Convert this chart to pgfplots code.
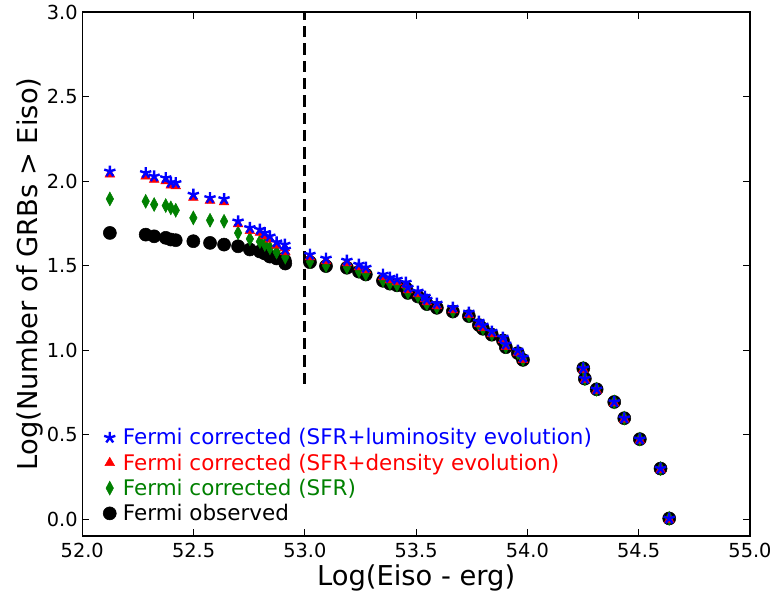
\documentclass[border=0pt]{standalone}
\usepackage{pgfplots}
\pgfplotsset{compat=1.18}
\usepackage{fontspec}
\setmainfont{DejaVu Sans}
\definecolor{mplgreen}{rgb}{0,0.5,0}

\begin{document}
\begin{tikzpicture}
\begin{axis}[
  name=ax,
  scale only axis,
  width=500.8pt, height=393pt,
  xmin=52, xmax=55, ymin=-0.1, ymax=3.0,
  xtick={52,52.5,...,55}, ytick={0,0.5,...,3},
  /pgf/number format/assume math mode=true,
  /pgf/number format/.cd, fixed, fixed zerofill, precision=1, /pgfplots/.cd,
  tick label style={font=\fontsize{14.5}{17}\selectfont},
  xticklabel style={yshift=-2pt},
  major tick length=5pt,
  tick style={black, line width=0.6pt},
  axis line style={line width=0.8pt},
  xlabel={Log(Eiso - erg)},
  ylabel={Log(Number of GRBs > Eiso)},
  label style={font=\fontsize{20.5}{24}\selectfont},
  xlabel style={at={(axis description cs:0.5,-0.08)}, anchor=center},
  ylabel style={at={(axis description cs:-0.078,0.5)}, anchor=center},
  legend style={draw=none, fill=none, at={(0.025,0.015)}, anchor=south west,
    font=\fontsize{16.1}{19}\selectfont, row sep=1.2pt},
  legend cell align=left,
  reverse legend,
]
% Fermi observed
\addplot[only marks, mark=*, mark size=4.9pt, black] coordinates {
(52.124,1.693) (52.285,1.683) (52.323,1.673) (52.375,1.664) (52.398,1.654) (52.420,1.650)
(52.499,1.644) (52.574,1.634) (52.637,1.624) (52.700,1.614) (52.753,1.595) (52.798,1.583)
(52.820,1.571) (52.843,1.553) (52.873,1.542) (52.910,1.530) (52.912,1.512)
(53.023,1.520) (53.095,1.497) (53.189,1.487) (53.243,1.464) (53.274,1.447) (53.351,1.410)
(53.382,1.393) (53.414,1.383) (53.454,1.367) (53.463,1.338) (53.508,1.317) (53.540,1.289)
(53.548,1.272) (53.593,1.250) (53.665,1.228) (53.737,1.201) (53.782,1.148) (53.800,1.126)
(53.840,1.091) (53.890,1.057) (53.903,1.017) (53.957,0.982) (53.980,0.942)
(54.251,0.892) (54.258,0.831) (54.311,0.768) (54.390,0.693) (54.435,0.597) (54.505,0.473)
(54.598,0.299) (54.637,0.004)
};
\addlegendentry{\hspace{3pt}Fermi observed}
% Fermi corrected (SFR)
\addplot[only marks, mark=diamond*, mark size=5.2pt, mark options={xscale=0.72}, color=mplgreen] coordinates {
(52.124,1.894) (52.285,1.880) (52.323,1.861) (52.375,1.855) (52.398,1.841) (52.420,1.827)
(52.499,1.782) (52.574,1.768) (52.637,1.762) (52.700,1.693) (52.753,1.658) (52.798,1.642)
(52.820,1.625) (52.843,1.605) (52.873,1.580) (52.910,1.570) (52.912,1.550)
(53.023,1.523) (53.095,1.500) (53.189,1.490) (53.243,1.467) (53.274,1.450) (53.351,1.413)
(53.382,1.396) (53.414,1.386) (53.454,1.370) (53.463,1.341) (53.508,1.320) (53.540,1.292)
(53.548,1.275) (53.593,1.253) (53.665,1.231) (53.737,1.204) (53.782,1.151) (53.800,1.129)
(53.840,1.094) (53.890,1.060) (53.903,1.020) (53.957,0.985) (53.980,0.945)
(54.251,0.892) (54.258,0.831) (54.311,0.768) (54.390,0.693) (54.435,0.597) (54.505,0.473)
(54.598,0.299) (54.637,0.004)
};
\addlegendentry{\hspace{3pt}\textcolor{mplgreen}{Fermi corrected (SFR)}}
% Fermi corrected (SFR+density evolution)
\addplot[only marks, mark=triangle*, mark size=4.2pt, red] coordinates {
(52.124,2.040) (52.285,2.028) (52.323,2.008) (52.375,2.000) (52.398,1.975) (52.420,1.970)
(52.499,1.902) (52.574,1.885) (52.637,1.875) (52.700,1.745) (52.753,1.705) (52.798,1.695)
(52.820,1.675) (52.843,1.655) (52.873,1.620) (52.910,1.605) (52.912,1.580)
(53.023,1.550) (53.095,1.527) (53.189,1.515) (53.243,1.491) (53.274,1.473) (53.351,1.432)
(53.382,1.414) (53.414,1.403) (53.454,1.385) (53.463,1.355) (53.508,1.332) (53.540,1.302)
(53.548,1.284) (53.593,1.261) (53.665,1.237) (53.737,1.208) (53.782,1.154) (53.800,1.131)
(53.840,1.095) (53.890,1.060) (53.903,1.019) (53.957,0.983) (53.980,0.942)
(54.251,0.885) (54.258,0.824) (54.311,0.761) (54.390,0.686) (54.435,0.590) (54.505,0.466)
(54.598,0.292) (54.637,-0.003)
};
\addlegendentry{\hspace{3pt}\textcolor{red}{Fermi corrected (SFR+density evolution)}}
% Fermi corrected (SFR+luminosity evolution)
\addplot[only marks, mark=star, mark size=4.4pt, blue, mark options={fill=blue, line width=1.8pt}] coordinates {
(52.124,2.057) (52.285,2.048) (52.323,2.028) (52.375,2.018) (52.398,1.992) (52.420,1.989)
(52.499,1.920) (52.574,1.900) (52.637,1.894) (52.700,1.762) (52.753,1.723) (52.798,1.713)
(52.820,1.693) (52.843,1.673) (52.873,1.638) (52.910,1.624) (52.912,1.595)
(53.023,1.565) (53.095,1.542) (53.189,1.530) (53.243,1.506) (53.274,1.488) (53.351,1.447)
(53.382,1.429) (53.414,1.418) (53.454,1.400) (53.463,1.370) (53.508,1.347) (53.540,1.317)
(53.548,1.299) (53.593,1.276) (53.665,1.252) (53.737,1.223) (53.782,1.169) (53.800,1.146)
(53.840,1.110) (53.890,1.075) (53.903,1.034) (53.957,0.998) (53.980,0.957)
(54.251,0.892) (54.258,0.831) (54.311,0.768) (54.390,0.693) (54.435,0.597) (54.505,0.473)
(54.598,0.299) (54.637,0.004)
};
\addlegendentry{\hspace{3pt}\textcolor{blue}{Fermi corrected (SFR+luminosity evolution)}}
% dashed vertical line
\addplot[black, line width=2.2pt, dash pattern=on 8.5pt off 4.5pt, forget plot] coordinates {(53,0.8) (53,3.0)};
\end{axis}
\pgfresetboundingbox
\path[use as bounding box] ([shift={(-61.7pt,-45pt)}]ax.south west) rectangle ([shift={(19.5pt,9pt)}]ax.north east);
\end{tikzpicture}
\end{document}
